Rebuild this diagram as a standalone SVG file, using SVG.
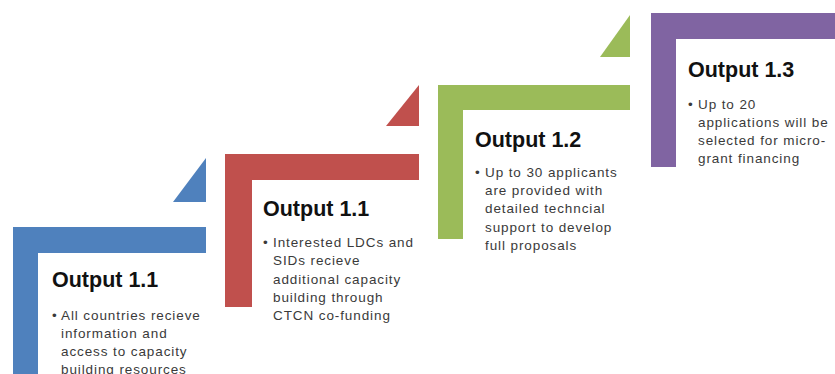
<svg xmlns="http://www.w3.org/2000/svg" width="835" height="374" viewBox="0 0 835 374">
<style>
.t{font-family:"Liberation Sans",Arial,sans-serif;font-weight:bold;font-size:21.5px;fill:#111}
.b{font-family:"Liberation Sans",Arial,sans-serif;font-size:13.5px;letter-spacing:0.9px;fill:#3a3a3a}
</style>
<rect width="835" height="374" fill="#fff"/>
<g id="step1">
<path d="M13,227H206V253H38V374H13Z" fill="#4f81bd"/>
<polygon points="206,158 206,202 173,202" fill="#4f81bd"/>
<text class="t" x="52" y="287">Output 1.1</text>
<g class="b"><text x="52" y="320">•</text><text x="61" y="320">All countries recieve</text><text x="61" y="338">information and</text><text x="61" y="356">access to capacity</text><text x="61" y="374">building resources</text></g>
</g>
<g id="step2">
<path d="M225,154H419V180H252V307H225Z" fill="#c0504d"/>
<polygon points="419,85 419,126 386,126" fill="#c0504d"/>
<text class="t" x="263" y="216">Output 1.1</text>
<g class="b"><text x="263" y="247">•</text><text x="273" y="247">Interested  LDCs and</text><text x="273" y="265">SIDs recieve</text><text x="273" y="284">additional capacity</text><text x="273" y="302">building through</text><text x="273" y="320">CTCN co-funding</text></g>
</g>
<g id="step3">
<path d="M438,85H630V110H463V239H438Z" fill="#9bbb59"/>
<polygon points="630,15 630,57 600,57" fill="#9bbb59"/>
<text class="t" x="475" y="147">Output 1.2</text>
<g class="b"><text x="475" y="177">•</text><text x="485" y="177">Up to 30 applicants</text><text x="485" y="195">are provided  with</text><text x="485" y="213">detailed  techncial</text><text x="485" y="232">support to develop</text><text x="485" y="250">full proposals</text></g>
</g>
<g id="step4">
<path d="M651,13H835V39H676V167H651Z" fill="#8064a2"/>
<text class="t" x="688" y="77">Output 1.3</text>
<g class="b"><text x="688" y="109">•</text><text x="698" y="109">Up to 20</text><text x="698" y="127">applications  will be</text><text x="698" y="145">selected  for micro-</text><text x="698" y="163">grant financing</text></g>
</g>
<g id="connectors"/>
</svg>
